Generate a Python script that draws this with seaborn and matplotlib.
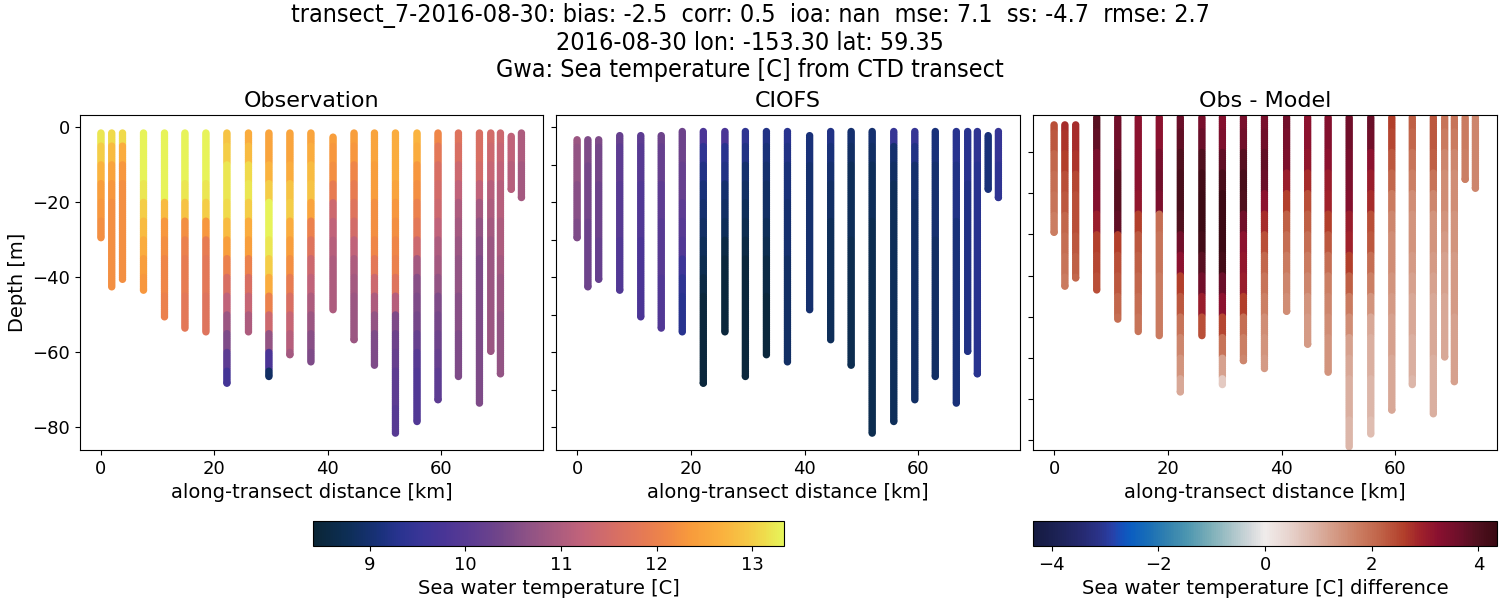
import numpy as np
import pandas as pd
import seaborn as sns
import matplotlib
matplotlib.use("Agg")
import matplotlib.pyplot as plt
from matplotlib import font_manager
from matplotlib.colors import LinearSegmentedColormap, Normalize
from matplotlib.cm import ScalarMappable

#%% CTD casts along the transect
dist_km = [0.0, 1.9, 3.8, 7.5, 11.2, 14.8, 18.5, 22.2, 26.0, 29.6, 33.3, 37.0,
           40.9, 44.6, 48.2, 51.9, 55.7, 59.4, 63.0, 66.7, 68.7, 70.4, 72.3, 74.1]
bottom_m = [-29.5, -42.6, -40.6, -43.5, -50.6, -53.6, -54.6, -68.3, -54.6, -66.5, -60.7, -62.6,
            -48.7, -56.7, -63.5, -81.6, -78.5, -72.7, -66.5, -73.6, -59.8, -65.8, -16.6, -18.8]
obs_top_m = [-1.6] * 12 + [-2.7] + [-1.6] * 9 + [-2.5, -1.6]
model_top_m = [-3.4, -3.4, -3.4, -2.3, -2.3, -2.3, -1.2, -1.2, -1.2, -1.2, -1.2, -1.2,
               -2.3, -1.2, -1.2, -1.2, -1.2, -1.2, -1.2, -1.2, -1.2, -1.2, -2.3, -1.2]
diff_top_m = [-3.4, -3.4, -3.4] + [-1.6] * 21

# temperature [C] in 5 m depth bins, from the surface down
obs_temp = [
    [13.2, 13.0, 12.7, 12.4, 12.3, 12.2],
    [13.1, 12.8, 12.5, 12.3, 12.2, 12.2, 12.2, 12.2, 12.2],
    [13.1, 12.6, 12.3, 12.2, 12.2, 12.2, 12.2, 12.2, 12.2],
    [13.3, 13.3, 13.3, 13.2, 13.0, 12.8, 12.6, 12.4, 12.3],
    [13.3, 13.3, 13.3, 13.3, 12.8, 12.3, 12.2, 12.1, 12.1, 12.0, 12.0],
    [13.3, 13.3, 13.3, 13.2, 12.9, 12.2, 12.0, 11.9, 11.9, 11.8, 11.8],
    [13.3, 13.3, 13.3, 13.2, 13.0, 12.3, 11.9, 11.8, 11.8, 11.7, 11.7],
    [12.9, 13.0, 13.2, 13.2, 13.1, 12.8, 12.4, 12.0, 11.6, 11.2, 10.8, 10.5, 10.1, 9.7],
    [12.6, 12.8, 13.1, 13.2, 13.0, 12.6, 12.4, 12.0, 11.6, 11.3, 11.0],
    [12.5, 12.5, 12.7, 13.0, 13.3, 13.3, 13.2, 13.0, 12.6, 12.0, 11.4, 10.7, 9.8, 8.9],
    [12.5, 12.5, 12.6, 12.9, 13.0, 12.6, 12.4, 12.2, 11.9, 11.6, 11.3, 11.1, 10.9],
    [12.5, 12.6, 12.8, 12.9, 12.5, 12.0, 11.7, 11.4, 11.2, 11.0, 10.8, 10.6, 10.5],
    [12.4, 12.3, 12.2, 11.9, 11.4, 11.2, 11.1, 11.0, 11.0, 11.0],
    [12.4, 12.3, 12.1, 11.9, 11.7, 11.5, 11.2, 11.0, 10.9, 10.8, 10.8, 10.8],
    [12.5, 12.5, 12.4, 12.4, 12.2, 12.2, 12.1, 11.8, 11.4, 11.0, 10.7, 10.5, 10.5],
    [12.6, 12.6, 12.6, 12.5, 12.3, 12.2, 12.1, 12.0, 11.7, 11.1, 10.5, 10.3, 10.2, 10.1, 10.1, 10.0, 10.0],
    [12.7, 12.6, 12.3, 12.2, 12.0, 11.8, 11.4, 10.9, 10.6, 10.5, 10.4, 10.2, 10.0, 9.9, 9.9, 9.9],
    [12.1, 11.8, 11.6, 11.5, 11.4, 11.2, 11.0, 10.9, 10.7, 10.5, 10.4, 10.3, 10.2, 10.1, 10.1],
    [11.7, 11.6, 11.4, 11.2, 11.0, 10.9, 10.8, 10.7, 10.7, 10.6, 10.6, 10.5, 10.5, 10.5],
    [11.6, 11.6, 11.5, 11.2, 10.9, 10.7, 10.6, 10.5, 10.5, 10.5, 10.5, 10.5, 10.5, 10.5, 10.5],
    [11.5, 11.4, 11.3, 11.1, 11.0, 10.9, 10.8, 10.8, 10.8, 10.8, 10.8, 10.8],
    [11.4, 11.3, 11.2, 11.1, 11.1, 11.0, 11.0, 10.9, 10.8, 10.8, 10.7, 10.7, 10.7, 10.7],
    [11.2, 11.2, 11.1, 11.1],
    [11.0, 11.0, 10.9, 10.9],
]
model_temp = [
    [10.8, 10.7, 10.7, 10.6, 10.6, 10.5],
    [10.5, 10.5, 10.4, 10.4, 10.4, 10.3, 10.3, 10.3, 10.3],
    [10.5, 10.4, 10.4, 10.3, 10.3, 10.3, 10.2, 10.2, 10.2],
    [10.2, 10.1, 10.1, 10.0, 10.0, 10.0, 9.9, 9.9, 9.9],
    [10.1, 10.0, 10.0, 9.9, 9.9, 9.9, 9.8, 9.8, 9.8, 9.8, 9.8],
    [10.3, 10.2, 10.2, 10.1, 10.1, 10.0, 10.0, 10.0, 9.9, 9.9, 9.9],
    [10.3, 10.3, 10.2, 10.2, 10.1, 10.0, 9.9, 9.6, 9.4, 9.3, 9.3],
    [9.8, 9.4, 9.2, 9.1, 9.0, 8.9, 8.8, 8.7, 8.6, 8.5, 8.5, 8.5, 8.5, 8.5],
    [9.8, 9.3, 9.2, 9.0, 8.9, 8.8, 8.6, 8.5, 8.5, 8.5, 8.5],
    [9.4, 9.2, 9.0, 8.9, 8.8, 8.7, 8.6, 8.5, 8.5, 8.5, 8.5, 8.5, 8.5, 8.5],
    [9.2, 9.1, 9.0, 8.9, 8.9, 8.8, 8.7, 8.6, 8.6, 8.5, 8.5, 8.5, 8.5],
    [9.3, 9.2, 9.1, 9.1, 9.0, 9.0, 9.0, 8.9, 8.9, 8.9, 8.9, 8.9, 8.9],
    [9.1, 9.1, 9.0, 9.0, 9.0, 9.0, 9.0, 9.0, 9.0, 9.0],
    [9.2, 9.1, 9.0, 8.9, 8.9, 8.8, 8.8, 8.8, 8.8, 8.8, 8.8, 8.8],
    [9.0, 8.9, 8.8, 8.8, 8.8, 8.8, 8.7, 8.7, 8.7, 8.7, 8.7, 8.7, 8.7],
    [9.0, 8.9, 8.8, 8.8, 8.8, 8.7, 8.7, 8.7, 8.7, 8.7, 8.7, 8.7, 8.7, 8.7, 8.7, 8.7, 8.7],
    [9.5, 9.0, 8.9, 8.8, 8.8, 8.8, 8.8, 8.8, 8.8, 8.8, 8.8, 8.8, 8.8, 8.8, 8.8, 8.8],
    [9.5, 9.2, 9.0, 9.0, 8.9, 8.9, 8.9, 8.9, 8.9, 8.9, 8.9, 8.9, 8.9, 8.9, 8.9],
    [9.1, 9.1, 9.0, 9.0, 9.0, 9.0, 8.9, 8.9, 8.9, 8.9, 8.9, 8.9, 8.9, 8.9],
    [9.3, 9.3, 9.2, 9.2, 9.2, 9.1, 9.1, 9.1, 9.1, 9.1, 9.1, 9.1, 9.1, 9.1, 9.1],
    [9.3, 9.3, 9.3, 9.2, 9.2, 9.2, 9.2, 9.2, 9.2, 9.2, 9.2, 9.2],
    [9.4, 9.4, 9.3, 9.3, 9.3, 9.3, 9.3, 9.3, 9.3, 9.3, 9.3, 9.3, 9.3, 9.3],
    [9.1, 9.1, 9.1, 9.1],
    [9.5, 9.5, 9.4, 9.4],
]
diff_temp = [
    [2.4, 2.3, 2.1, 2.0, 1.9, 1.75],
    [2.8, 2.7, 2.6, 2.4, 2.3, 2.1, 2.0, 1.9, 1.8],
    [2.8, 2.8, 2.7, 2.5, 2.4, 2.4, 2.3, 2.2, 2.1],
    [3.9, 3.8, 3.5, 3.4, 3.3, 3.0, 2.6, 2.5, 2.4],
    [3.6, 3.6, 3.7, 3.9, 3.9, 3.8, 2.6, 2.4, 2.3, 2.1, 2.0],
    [3.2, 3.2, 3.2, 3.2, 3.1, 2.6, 2.3, 2.2, 2.1, 2.0, 1.9],
    [3.2, 3.2, 3.5, 3.6, 3.4, 2.0, 1.9, 1.9, 1.8, 1.8, 1.8],
    [3.7, 3.8, 4.0, 4.1, 4.1, 4.0, 3.6, 3.2, 2.6, 2.3, 1.9, 1.6, 1.4, 1.1],
    [3.5, 3.7, 4.0, 4.2, 4.3, 4.3, 4.2, 3.9, 3.6, 3.0, 2.4],
    [3.3, 3.4, 3.8, 4.1, 4.3, 4.3, 4.3, 4.2, 3.7, 3.2, 2.5, 1.9, 1.2, 0.6],
    [3.5, 3.6, 3.9, 4.1, 4.0, 3.6, 3.2, 3.1, 3.0, 2.6, 2.0, 1.7, 1.6],
    [3.5, 3.6, 3.8, 3.7, 3.2, 2.8, 2.4, 2.1, 1.9, 1.7, 1.5, 1.4, 1.3],
    [3.6, 3.5, 3.4, 3.0, 2.6, 2.2, 2.0, 1.8, 1.6, 1.5],
    [3.2, 3.2, 3.1, 2.8, 2.4, 2.2, 2.0, 1.8, 1.6, 1.4, 1.3, 1.3],
    [3.3, 3.3, 3.2, 3.0, 2.9, 2.6, 2.3, 2.0, 1.7, 1.6, 1.5, 1.4, 1.4],
    [3.6, 3.6, 3.5, 3.4, 3.3, 3.0, 2.9, 2.6, 2.2, 1.8, 1.5, 1.2, 1.1, 1.0, 1.0, 0.9, 0.9],
    [3.7, 3.6, 3.2, 3.0, 2.8, 2.4, 2.3, 2.0, 1.7, 1.4, 1.1, 1.0, 1.0, 0.9, 0.9, 0.8],
    [2.6, 2.5, 2.3, 2.1, 1.8, 1.6, 1.5, 1.5, 1.4, 1.3, 1.2, 1.2, 1.1, 1.1, 1.1],
    [2.2, 2.1, 1.9, 1.7, 1.5, 1.4, 1.4, 1.3, 1.2, 1.1, 1.1, 1.0, 1.0, 0.9],
    [2.3, 2.3, 2.2, 1.9, 1.6, 1.4, 1.4, 1.3, 1.2, 1.1, 1.1, 1.1, 1.0, 1.0, 1.0],
    [1.9, 1.8, 1.6, 1.5, 1.5, 1.4, 1.3, 1.2, 1.2, 1.1, 1.1, 1.1],
    [1.9, 1.8, 1.6, 1.5, 1.5, 1.4, 1.4, 1.3, 1.3, 1.3, 1.2, 1.2, 1.2, 1.2],
    [1.8, 1.8, 1.7, 1.7],
    [1.6, 1.6, 1.6, 1.6],
]

suptitle = ("transect_7-2016-08-30: bias: -2.5  corr: 0.5  ioa: nan  mse: 7.1  ss: -4.7  rmse: 2.7\n"
            "2016-08-30 lon: -153.30 lat: 59.35\n"
            "Gwa: Sea temperature [C] from CTD transect")

#%% colormaps (cmocean thermal / balance look-alikes)
thermal = LinearSegmentedColormap.from_list("thermal", list(zip(
    [0, .07, .14, .18, .23, .28, .34, .40, .45, .51, .57, .64, .70, .755, .80, .87, .925, .96, 1.0],
    ['#0A2535', '#0D2E55', '#19317A', '#28338F', '#3A3597', '#4A3596', '#5D3C92', '#734689',
     '#8B5186', '#A65A80', '#C1637A', '#D66E65', '#E57A55', '#F08846', '#F89A3C', '#FAB13E',
     '#F5C845', '#EFDC4C', '#E6F55A'])))
balance = LinearSegmentedColormap.from_list("balance", list(zip(
    [0, .05, .10, .14, .17, .19, .21, .25, .29, .33, .38, .425, .47, .5,
     .55, .60, .65, .70, .75, .80, .835, .875, .925, .96, 1.0],
    ['#151A40', '#1C2255', '#25296E', '#2A3288', '#2841A8', '#1450BC', '#0B5EC0', '#1A6FB6',
     '#3382AF', '#4B95B0', '#7AAEB8', '#A6C3C8', '#D4D9DC', '#F0ECEB',
     '#E8D5CF', '#DDB8AC', '#D49B86', '#CB7E63', '#C06247', '#B23F2B', '#A0222B', '#89102F',
     '#6A0F29', '#50101E', '#3A0913'])))
temp_norm = Normalize(8.41, 13.33)
diff_norm = Normalize(-4.35, 4.35)


def casts(tops, profiles):
    rows = []
    for x, top, bot, prof in zip(dist_km, tops, bottom_m, profiles):
        for d in np.append(np.arange(top, bot, -0.5), bot):
            k = min(int(-d // 5), len(prof) - 1)
            rows.append((x, d, prof[k]))
    return pd.DataFrame(rows, columns=['dist', 'depth', 'value'])


obs_df = casts(obs_top_m, obs_temp)
model_df = casts(model_top_m, model_temp)
diff_df = casts(diff_top_m, diff_temp)

#%% pick a narrow face for the suptitle if one is installed
fonts = font_manager.fontManager.ttflist
if any(f.name == 'DejaVu Sans' and f.stretch in ('condensed', 'semi-condensed', 600, 500) for f in fonts):
    title_font = dict(family='DejaVu Sans', fontstretch='condensed', fontsize=18)
elif any(f.name == 'Liberation Sans Narrow' for f in fonts):
    title_font = dict(family='Liberation Sans Narrow', fontsize=19)
else:
    title_font = dict(family='DejaVu Sans', fontsize=17.5)

#%% Plot
fig = plt.figure(figsize=(15, 6), dpi=100)
ax1 = fig.add_axes([0.0533, 0.25, 0.3087, 0.5583])
ax2 = fig.add_axes([0.3707, 0.25, 0.3093, 0.5583])
ax3 = fig.add_axes([0.6887, 0.25, 0.3093, 0.5583])

for ax, df, cmap, norm, title in [(ax1, obs_df, thermal, temp_norm, 'Observation'),
                                  (ax2, model_df, thermal, temp_norm, 'CIOFS'),
                                  (ax3, diff_df, balance, diff_norm, 'Obs - Model')]:
    sns.scatterplot(data=df, x='dist', y='depth', hue='value', palette=cmap, hue_norm=norm,
                    s=28, linewidth=0, legend=False, ax=ax)
    ax.set_title(title, fontsize=16)
    ax.set_xlabel('along-transect distance [km]', fontsize=14)
    ax.set_ylabel('')
    ax.set_xlim(-3.7, 77.9)
    ax.set_xticks([0, 20, 40, 60])
    ax.tick_params(labelsize=13)

ax1.set_ylim(-86.1, 3.2)
ax1.set_yticks([0, -20, -40, -60, -80])
ax1.set_ylabel('Depth [m]', fontsize=14)
ax2.set_ylim(-86.1, 3.2)
ax2.set_yticks(np.arange(0, -81, -10))
ax2.set_yticklabels([])
ax3.set_ylim(-82.4, -1.0)
ax3.set_yticks(np.arange(-10, -81, -10))
ax3.set_yticklabels([])

cax1 = fig.add_axes([0.2087, 0.09, 0.314, 0.0417])
cb1 = fig.colorbar(ScalarMappable(norm=temp_norm, cmap=thermal), cax=cax1, orientation='horizontal')
cb1.set_label('Sea water temperature [C]', fontsize=14)
cb1.ax.tick_params(labelsize=13)
cb1.set_ticks([9, 10, 11, 12, 13])

cax2 = fig.add_axes([0.6887, 0.09, 0.3093, 0.0417])
cb2 = fig.colorbar(ScalarMappable(norm=diff_norm, cmap=balance), cax=cax2, orientation='horizontal')
cb2.set_label('Sea water temperature [C] difference', fontsize=14)
cb2.ax.tick_params(labelsize=13)
cb2.set_ticks([-4, -2, 0, 2, 4])

fig.suptitle(suptitle, y=0.995, linespacing=1.15, **title_font)

plt.savefig('out.png', dpi=100)
